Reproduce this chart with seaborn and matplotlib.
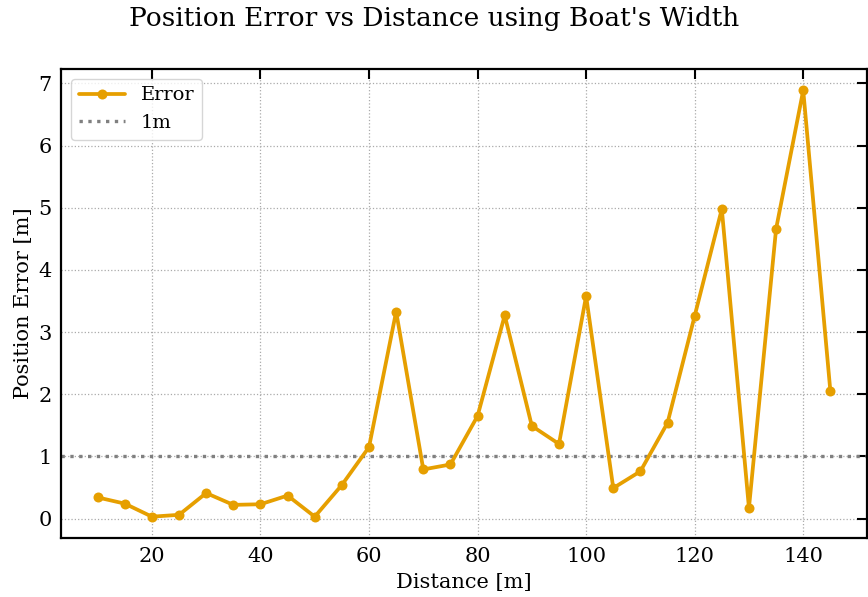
import matplotlib
matplotlib.use("Agg")
import matplotlib.pyplot as plt
import seaborn as sns
import pandas as pd

distance = [10, 15, 20, 25, 30, 35, 40, 45, 50, 55, 60, 65, 70, 75, 80,
            85, 90, 95, 100, 105, 110, 115, 120, 125, 130, 135, 140, 145]
error = [0.34, 0.24, 0.03, 0.06, 0.41, 0.22, 0.23, 0.37, 0.03, 0.54, 1.15,
         3.33, 0.79, 0.87, 1.65, 3.27, 1.49, 1.20, 3.58, 0.49, 0.76, 1.54,
         3.26, 4.98, 0.17, 4.66, 6.89, 2.05]
threshold = 1.0

sns.set_style("white")
plt.rcParams['font.family'] = ['DejaVu Serif']
plt.rcParams['text.color'] = 'black'
plt.rcParams['axes.labelcolor'] = 'black'
plt.rcParams['xtick.color'] = 'black'
plt.rcParams['ytick.color'] = 'black'

df = pd.DataFrame({"Distance": distance, "Error": error})

fig = plt.figure(figsize=(8.68, 5.97), dpi=100)
ax = fig.add_axes([61/868, 1 - 538/597, 806/868, 469/597])
ax.set_axisbelow(True)

sns.lineplot(data=df, x="Distance", y="Error", ax=ax, color="#E69F00",
             linewidth=2.7, marker="o", markersize=7.2, markeredgewidth=0,
             label="Error", zorder=3)
ax.axhline(threshold, color="gray", linestyle=":", linewidth=2.4, label="1m",
           zorder=2)

ax.grid(True, linestyle=":", color="#aaaaaa", linewidth=0.9)
ax.tick_params(direction="in", length=7, width=1.5, top=True, right=True,
               labelsize=15, colors="black", pad=6.5)
for s in ax.spines.values():
    s.set_linewidth(1.6)
    s.set_color("black")

ax.set_xlabel("Distance [m]", fontsize=15, labelpad=5)
ax.set_ylabel("Position Error [m]", fontsize=15, labelpad=4)
fig.suptitle("Position Error vs Distance using Boat's Width", fontsize=19,
             y=0.99, va="top")
ax.legend(loc="upper left", fontsize=14, frameon=True, handlelength=2.4)

fig.savefig("out.png", dpi=100)
